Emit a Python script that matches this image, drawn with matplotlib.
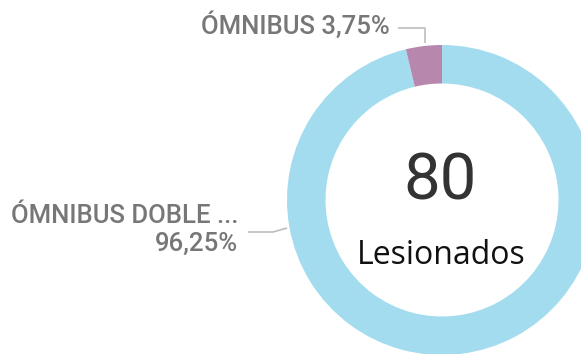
import matplotlib
matplotlib.use("Agg")
import matplotlib.pyplot as plt

# Lesionados por tipo de vehículo
categories = ["ÓMNIBUS DOBLE ...", "ÓMNIBUS"]
values = [77, 3]
colors = ["#A3DCEF", "#B787AE"]
total_label = "Lesionados"

W, H = 581, 354
fig = plt.figure(figsize=(W / 100, H / 100), dpi=100)
ax = fig.add_axes([0, 0, 1, 1])

total = sum(values)
pcts = [v / total * 100 for v in values]

cx, cy = 442, H - 200
r_out, r_in = 155, 116.5
ax.pie(values, colors=colors, startangle=90, counterclock=False,
       center=(cx, cy), radius=r_out,
       wedgeprops=dict(width=r_out - r_in, linewidth=0))
ax.set_xlim(0, W)
ax.set_ylim(0, H)
ax.set_aspect("auto")
ax.axis("off")


def fmt(p):
    return f"{p:.2f}".replace(".", ",") + "%"


lab_font = dict(family=["Roboto", "DejaVu Sans"], fontsize=18.5, fontweight="medium",
                color="#777777")
line_kw = dict(color="#BDBDBD", linewidth=1.2, solid_capstyle="butt")

# small slice label
ax.text(390, H - 25, f"{categories[1]} {fmt(pcts[1])}", ha="right", va="center", **lab_font)
ax.plot([398, 425, 425], [H - 28, H - 28, H - 43], **line_kw)

# large slice label
ax.text(238, H - 216, categories[0], ha="right", va="center", **lab_font)
ax.text(238, H - 244, fmt(pcts[0]), ha="right", va="center", **lab_font)
ax.plot([248, 273, 287], [H - 232, H - 232, H - 228], **line_kw)

# centre total
ax.text(440, H - 182, str(total), ha="center", va="center",
        family=["Roboto", "DejaVu Sans"], fontsize=47, color="#333333")
ax.text(441, H - 256, total_label, ha="center", va="center",
        family=["Open Sans", "DejaVu Sans"], fontsize=23, color="#111111")

fig.savefig("out.png", dpi=100)
